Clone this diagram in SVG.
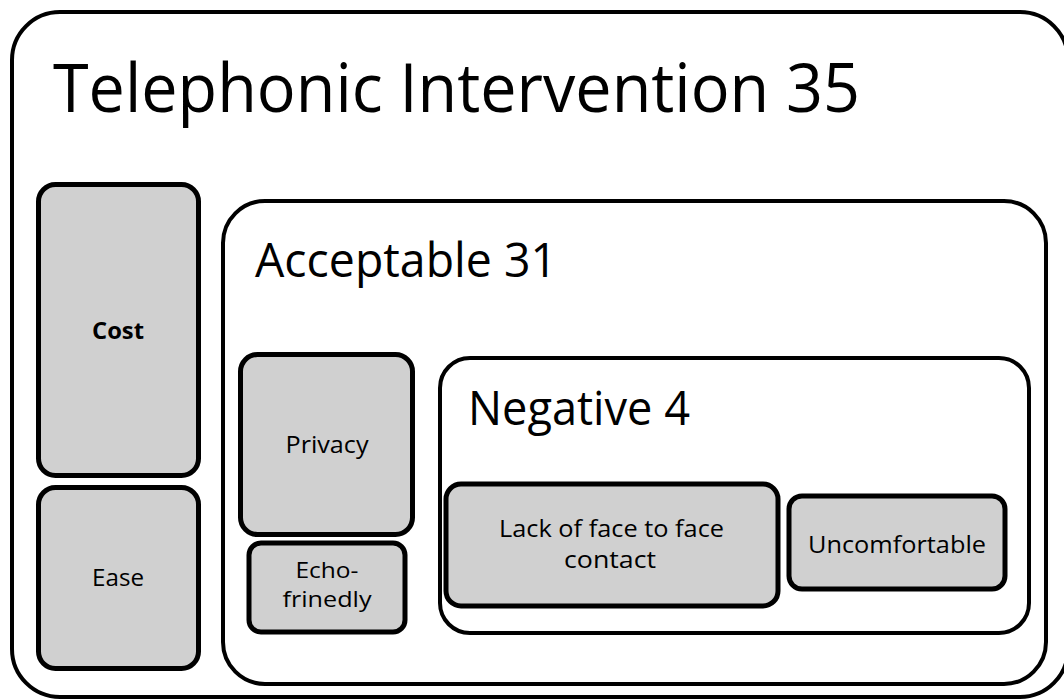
<svg xmlns="http://www.w3.org/2000/svg" width="1064" height="700" viewBox="0 0 1064 700">
<style>
.frame{fill:#ffffff;stroke:#000000;stroke-width:4}
.item{fill:#d0d0d0;stroke:#000000;stroke-width:5}
.t{font-family:"Open Sans","Liberation Sans",sans-serif;fill:#000000}
.big{font-size:68px}
.mid{font-size:47px}
.sm{font-size:24px;text-anchor:middle}
.xs{font-size:21px;text-anchor:middle}
.b{font-weight:bold}
</style>
<rect width="1064" height="700" fill="#ffffff"/>
<g id="telephonic">
<rect class="frame" x="12" y="12" width="1056" height="685" rx="48" ry="48"/>
<text class="t big" x="53" y="112" textLength="807" lengthAdjust="spacingAndGlyphs">Telephonic Intervention 35</text>
</g>
<g id="cost">
<rect class="item" x="38.5" y="184.5" width="160" height="291" rx="17"/>
<text class="t sm b" x="118" y="339" textLength="52" lengthAdjust="spacingAndGlyphs">Cost</text>
</g>
<g id="ease">
<rect class="item" x="38.5" y="487.5" width="160" height="181" rx="17"/>
<text class="t sm" x="118" y="586" textLength="52" lengthAdjust="spacingAndGlyphs">Ease</text>
</g>
<g id="acceptable">
<rect class="frame" x="223" y="201" width="823" height="483" rx="42" ry="42"/>
<text class="t mid" x="255" y="277" textLength="302" lengthAdjust="spacingAndGlyphs">Acceptable 31</text>
</g>
<g id="privacy">
<rect class="item" x="240.5" y="354.5" width="172" height="180" rx="17"/>
<text class="t sm" x="327" y="453" textLength="83" lengthAdjust="spacingAndGlyphs">Privacy</text>
</g>
<g id="echo">
<rect class="item" x="249" y="543" width="156" height="89" rx="12"/>
<text class="t xs" x="327" y="578" textLength="63" lengthAdjust="spacingAndGlyphs">Echo-</text>
<text class="t xs" x="327" y="607" textLength="89" lengthAdjust="spacingAndGlyphs">frinedly</text>
</g>
<g id="negative">
<rect class="frame" x="440" y="358" width="589" height="275" rx="30" ry="30"/>
<text class="t mid" x="468" y="425" textLength="222" lengthAdjust="spacingAndGlyphs">Negative 4</text>
</g>
<g id="lack">
<rect class="item" x="446" y="484" width="332" height="122" rx="15"/>
<text class="t sm" x="611.5" y="537" textLength="225" lengthAdjust="spacingAndGlyphs">Lack of face to face</text>
<text class="t sm" x="610" y="568" textLength="92" lengthAdjust="spacingAndGlyphs">contact</text>
</g>
<g id="uncomfortable">
<rect class="item" x="789" y="496" width="216" height="93" rx="13"/>
<text class="t sm" x="897" y="553" textLength="178" lengthAdjust="spacingAndGlyphs">Uncomfortable</text>
</g>
<g id="connectors"></g>
</svg>
